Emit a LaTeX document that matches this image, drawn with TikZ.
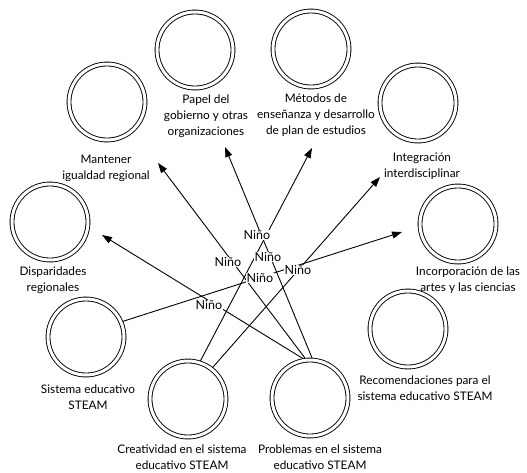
\documentclass[tikz,border=0pt]{standalone}
\usepackage{fontspec}
\setmainfont{Lato}
\usetikzlibrary{arrows.meta}
\begin{document}
\begin{tikzpicture}[x=1pt,y=-1pt,
  dcirc/.style={circle,draw,double,double distance=3pt,line width=0.9pt,minimum size=76pt,inner sep=0pt,outer sep=2pt},
  lbl/.style={align=center,font=\fontsize{11.8}{16}\selectfont,inner sep=0pt},
  edge/.style={line width=0.9pt,-{Triangle[length=10pt,width=7pt]}},
  nino/.style={fill=white,inner sep=0.8pt,font=\fontsize{12.5}{14}\selectfont}]
\useasboundingbox (0,0) rectangle (527,472);
% circles
\node[dcirc] (papel) at (195,50) {};
\node[dcirc] (met) at (311,49) {};
\node[dcirc] (mant) at (107,102) {};
\node[dcirc] (integ) at (418,103) {};
\node[dcirc] (disp) at (50,222) {};
\node[dcirc] (incorp) at (458,224) {};
\node[dcirc] (sist) at (86,337) {};
\node[dcirc] (recom) at (408,329) {};
\node[dcirc] (creat) at (188,399) {};
\node[dcirc] (prob) at (310,398) {};
% circle labels
\node[lbl] (lpapel) at (206,116) {Papel del\\gobierno y otras\\organizaciones};
\node[lbl] (lmet) at (316,115) {Métodos de\\enseñanza y desarrollo\\de plan de estudios};
\node[lbl] (lmant) at (106,168) {Mantener\\igualdad regional};
\node[lbl] (linteg) at (422,166) {Integración\\interdisciplinar};
\node[lbl] (ldisp) at (53,280) {Disparidades\\regionales};
\node[lbl] (lincorp) at (468,280) {Incorporación de las\\artes y las ciencias};
\node[lbl] (lsist) at (88,397) {Sistema educativo\\STEAM};
\node[lbl] (lrecom) at (425,388) {Recomendaciones para el\\sistema educativo STEAM};
\node[lbl] (lcreat) at (182,457) {Creatividad en el sistema\\educativo STEAM};
\node[lbl] (lprob) at (320,457) {Problemas en el sistema\\educativo STEAM};
% arrow tips
\coordinate (tdisp) at (102,235);
\coordinate (tmant) at (158,163);
\coordinate (tpapel) at (225,147);
\coordinate (tmet) at (312,148);
\coordinate (tinteg) at (380,177);
\coordinate (tincorp) at (402,232);
% edges
\draw[edge] (prob.100) -- (tdisp);
\draw[edge] (prob.97) -- (tmant);
\draw[edge] (prob.87) -- (tpapel);
\draw[edge] (creat.72) -- (tmet);
\draw[edge] (creat.52) -- (tinteg);
\draw[edge] (sist.23) -- (tincorp);
% edge labels
\node[nino] (n1) at (257,235) {Niño};
\node[nino] (n3) at (268,257) {Niño};
\node[nino] (n2) at (228,262) {Niño};
\node[nino] (n4) at (298,270) {Niño};
\node[nino] (n5) at (260,278) {Niño};
\node[nino] (n6) at (209,305) {Niño};
\end{tikzpicture}
\end{document}
